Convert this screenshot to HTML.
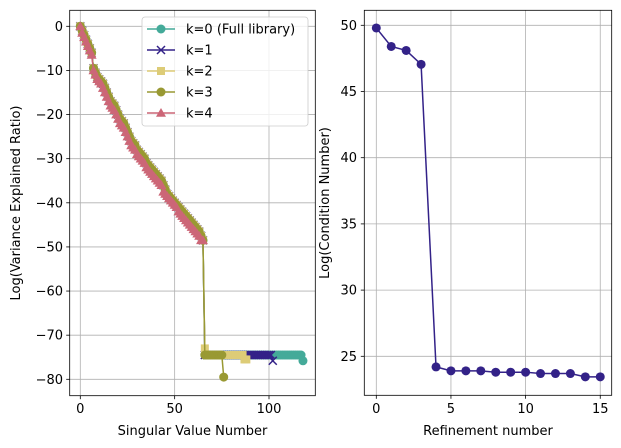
<!DOCTYPE html>
<html><head><meta charset="utf-8"><style>
body{margin:0;background:#fff}
svg{display:block;font-family:"DejaVu Sans","Liberation Sans",sans-serif}
</style></head><body>
<svg id="fig" width="621" height="448" xmlns="http://www.w3.org/2000/svg">
<rect width="621" height="448" fill="#fff"/>
<g id="left"></g>
<g id="right"></g>
</svg>
<script>
// Left chart data
const headK0 = [0,-1,-2,-3,-4,-5,-6,-9.5,-10.5,-11.5,-12,-12.5,-13,-14,-15,-16,-17,-17.5,-18,-19,-20,-21,-21.5,-22,-23,-24,-25,-26,-26.5,-27,-28,-28.5,-29,-29.5,-30,-31,-31.5,-32,-32.5,-33,-33.5,-34,-34.5,-35,-36,-37,-38,-38.5,-39,-39.5,-40,-40.5,-41,-41.5,-42,-42.5,-43,-43.5,-44,-44.5,-45,-45.5,-46,-46.5,-47.5,-48.5];
const headK4 = [0,-1.5,-2.5,-3.5,-4.5,-5.5,-6.5,-10,-11,-12,-12.5,-13,-14,-15,-16,-17,-18,-18.5,-19,-20,-21,-22,-22.5,-23,-24,-25,-26,-27,-27.5,-28,-29,-29.5,-30,-30.5,-31,-32,-32.5,-33,-33.5,-34,-34.5,-35,-35.5,-36,-37.5,-38,-38.5,-39,-39.5,-40,-40.5,-41,-42,-42.5,-43,-43.5,-44,-44.5,-45,-45.5,-46,-46.5,-47,-47.5,-48.5,-48.5];
const tailK0 = [-74.5,-74.5,-74.5,-74.5,-74.5,-74.5,-74.5,-74.5,-74.5,-74.5,-74.5,-74.5,-74.5,-74.5,-74.5,-74.5,-74.5,-74.5,-74.5,-74.5,-74.5,-74.5,-74.5,-74.5,-74.5,-74.5,-74.5,-74.5,-74.5,-74.5,-74.5,-74.5,-74.5,-74.5,-74.5,-74.5,-74.5,-74.5,-74.5,-74.5,-74.5,-74.5,-74.5,-74.5,-74.5,-74.5,-74.5,-74.5,-74.5,-74.5,-74.5,-74.5,-75.8];
const tailK1 = [-74.5,-74.5,-74.5,-74.5,-74.5,-74.5,-74.5,-74.5,-74.5,-74.5,-74.5,-74.5,-74.5,-74.5,-74.5,-74.5,-74.5,-74.5,-74.5,-74.5,-74.5,-74.5,-74.5,-74.5,-74.5,-74.5,-74.5,-74.5,-74.5,-74.5,-74.5,-74.5,-74.5,-74.5,-74.5,-74.5,-75.8];
const tailK2 = [-73,-74.5,-74.5,-74.5,-74.5,-74.5,-74.5,-74.5,-74.5,-74.5,-74.5,-74.5,-74.5,-74.5,-74.5,-74.5,-74.5,-74.5,-74.5,-74.5,-74.5,-75.5,-75.5];
const tailK3 = [-74.5,-74.5,-74.5,-74.5,-74.5,-74.5,-74.5,-74.5,-74.5,-74.5,-79.5];
const leftXTicks = [0,50,100];
const leftYTicks = [0,-10,-20,-30,-40,-50,-60,-70,-80];
// Right chart data
const refinement = [0,1,2,3,4,5,6,7,8,9,10,11,12,13,14,15];
const condNumber = [49.8,48.4,48.1,47.05,24.2,23.9,23.9,23.9,23.8,23.8,23.8,23.7,23.7,23.7,23.45,23.45];
const rightXTicks = [0,5,10,15];
const rightYTicks = [25,30,35,40,45,50];

const NS="http://www.w3.org/2000/svg";
function mk(tag,attrs,parent){const e=document.createElementNS(NS,tag);for(const k in attrs)e.setAttribute(k,attrs[k]);parent.appendChild(e);return e;}

// LEFT
const L=document.getElementById('left');
const lx=v=>80.3+v*1.887, ly=v=>26.3-v*4.4125;
leftXTicks.forEach(t=>{const g=mk('line',{x1:lx(t),x2:lx(t),y1:10.3,y2:395.7,stroke:'#b0b0b0','stroke-width':0.8},L);

mk('line',{x1:lx(t),x2:lx(t),y1:395.7,y2:399.2,stroke:'#000','stroke-width':0.8},L);
const tx=mk('text',{x:lx(t),y:413,'font-size':13,'text-anchor':'middle',fill:'#000'},L);tx.textContent=t;
});
leftYTicks.forEach(t=>{const g=mk('line',{x1:69.7,x2:315.3,y1:ly(t),y2:ly(t),stroke:'#b0b0b0','stroke-width':0.8},L);

mk('line',{x1:66.2,x2:69.7,y1:ly(t),y2:ly(t),stroke:'#000','stroke-width':0.8},L);
const tx=mk('text',{x:63,y:ly(t)+4.5,'font-size':13,'text-anchor':'end',fill:'#000'},L);tx.textContent=(t<0?'\u2212'+(-t):t);
});

const series=[
 {name:'k=0 (Full library)',c:'#44AA99',m:'o',d:headK0.concat(tailK0)},
 {name:'k=1',c:'#332288',m:'x',d:headK0.concat(tailK1)},
 {name:'k=2',c:'#DDCC77',m:'s',d:headK0.concat(tailK2)},
 {name:'k=3',c:'#999933',m:'o',d:headK0.concat(tailK3)},
 {name:'k=4',c:'#CC6677',m:'^',d:headK4}
];
function marker(m,x,y,c,p){
 let e;
 if(m==='o')e=mk('circle',{cx:x,cy:y,r:4.5,fill:c},p);
 else if(m==='s')e=mk('rect',{x:x-4,y:y-4,width:8,height:8,fill:c},p);
 else if(m==='^')e=mk('polygon',{points:`${x},${y-5} ${x-5},${y+3.8} ${x+5},${y+3.8}`,fill:c},p);
 else e=mk('path',{d:`M${x-4},${y-4}L${x+4},${y+4}M${x-4},${y+4}L${x+4},${y-4}`,stroke:c,'stroke-width':1.5,fill:'none'},p);
 return e;
}
series.forEach(s=>{
 const g=mk('g',{},L);
 
 
 const pts=s.d.map((v,i)=>lx(i)+','+ly(v)).join(' ');
 mk('polyline',{points:pts,fill:'none',stroke:s.c,'stroke-width':1.5},g);
 s.d.forEach((v,i)=>{const e=marker(s.m,lx(i),ly(v),s.c,g);
 });
});
mk('rect',{x:69.7,y:10.3,width:245.6,height:385.4,fill:'none',stroke:'#000','stroke-width':0.8},L);
// legend
const lg=mk('g',{},L);


mk('rect',{x:142,y:17,width:166,height:109,rx:3,fill:'#fff','fill-opacity':0.8,stroke:'#ccc','stroke-width':0.8},lg);
series.forEach((s,i)=>{const y=29+i*21;
 const e=mk('g',{},lg);
 
 
 mk('line',{x1:147,x2:175,y1:y,y2:y,stroke:s.c,'stroke-width':1.5},e);
 marker(s.m,161,y,s.c,e);
 const t=mk('text',{x:186,y:y+4.5,'font-size':13,fill:'#000'},e);t.textContent=s.name;});
let t=mk('text',{x:192.5,y:435,'font-size':13,'text-anchor':'middle'},L);t.textContent='Singular Value Number';

t=mk('text',{x:0,y:0,'font-size':13,'text-anchor':'middle',transform:'translate(20,203) rotate(-90)'},L);t.textContent='Log(Variance Explained Ratio)';


// RIGHT
const R=document.getElementById('right');
const rx=v=>376.3+v*14.93, ry=v=>25.3-(v-50)*13.24;
rightXTicks.forEach(v=>{const g=mk('line',{x1:rx(v),x2:rx(v),y1:10.3,y2:395.3,stroke:'#b0b0b0','stroke-width':0.8},R);

mk('line',{x1:rx(v),x2:rx(v),y1:395.3,y2:398.8,stroke:'#000','stroke-width':0.8},R);
const tx=mk('text',{x:rx(v),y:413,'font-size':13,'text-anchor':'middle'},R);tx.textContent=v;
});
rightYTicks.forEach(v=>{const g=mk('line',{x1:364.3,x2:611.7,y1:ry(v),y2:ry(v),stroke:'#b0b0b0','stroke-width':0.8},R);

mk('line',{x1:360.8,x2:364.3,y1:ry(v),y2:ry(v),stroke:'#000','stroke-width':0.8},R);
const tx=mk('text',{x:357,y:ry(v)+4.5,'font-size':13,'text-anchor':'end'},R);tx.textContent=v;
});
mk('polyline',{points:condNumber.map((v,i)=>rx(refinement[i])+','+ry(v)).join(' '),fill:'none',stroke:'#332288','stroke-width':1.5},R);
condNumber.forEach((v,i)=>{const c=mk('circle',{cx:rx(refinement[i]),cy:ry(v),r:4.5,fill:'#332288'},R);
});
mk('rect',{x:364.3,y:10.3,width:247.4,height:385,fill:'none',stroke:'#000','stroke-width':0.8},R);
t=mk('text',{x:488,y:435,'font-size':13,'text-anchor':'middle'},R);t.textContent='Refinement number';

t=mk('text',{x:0,y:0,'font-size':13,'text-anchor':'middle',transform:'translate(329,203) rotate(-90)'},R);t.textContent='Log(Condition Number)';

</script>
</body></html>
